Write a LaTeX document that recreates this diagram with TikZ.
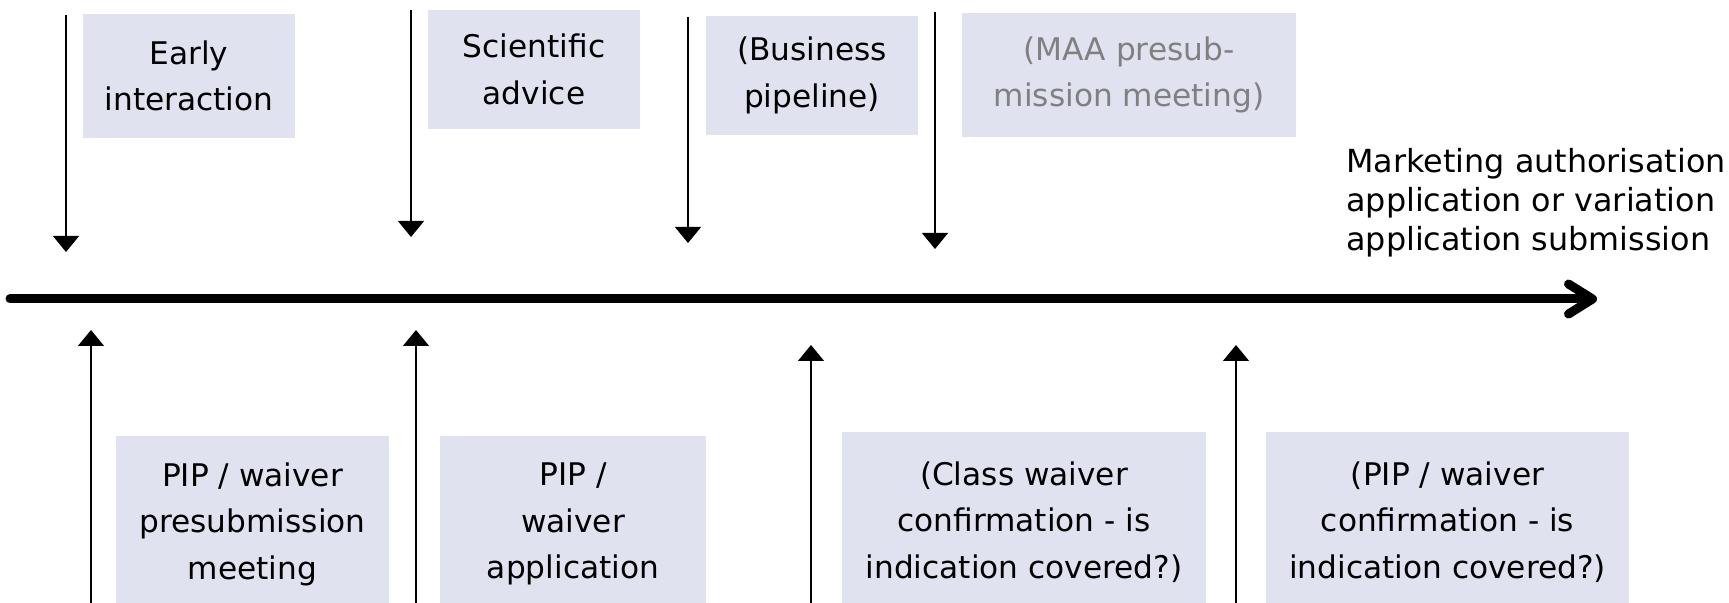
\documentclass[tikz,border=0pt]{standalone}
\usepackage{fontspec}
\setmainfont{DejaVu Sans}
\usetikzlibrary{arrows.meta}
\definecolor{boxfill}{RGB}{224,226,240}
\definecolor{greytext}{RGB}{128,128,128}
\begin{document}
\begin{tikzpicture}[x=0.5pt,y=-0.5pt,
  stage/.style={fill=boxfill,inner sep=0pt,align=center,font=\fontsize{15.6}{23.2}\selectfont},
  event/.style={line width=0.6pt,-{Triangle[length=8pt,width=13pt]}},
  timeline/.style={line width=4.5pt,line cap=round,-{Straight Barb[length=12pt,width=15pt,round]}}]
\useasboundingbox (0,0) rectangle (1729,603);
% steps before the submission (above the time line)
\node[stage,minimum width=106pt,minimum height=62pt] (early) at (189,76) {Early\\interaction};
\node[stage,minimum width=106pt,minimum height=59.5pt] (advice) at (534,69.5) {Scientific\\advice};
\node[stage,minimum width=106pt,minimum height=59.5pt] (pipeline) at (812,75.5) {(Business\\pipeline)};
\node[stage,minimum width=167pt,minimum height=62pt,text=greytext] (maa) at (1129,75) {(MAA presub-\\mission meeting)};
% paediatric steps (below the time line)
\node[stage,minimum width=136.5pt,minimum height=88pt] (pipmeeting) at (252.5,524) {PIP / waiver\\presubmission\\meeting};
\node[stage,minimum width=133pt,minimum height=88pt] (pipapp) at (573,524) {PIP /\\waiver\\application};
\node[stage,minimum width=182pt,minimum height=90pt] (classwaiver) at (1024,522) {(Class waiver\\confirmation - is\\indication covered?)};
\node[stage,minimum width=181.5pt,minimum height=90pt] (pipconf) at (1447.5,522) {(PIP / waiver\\confirmation - is\\indication covered?)};
% time line
\coordinate (start) at (10,299);
\coordinate (end) at (1597,299);
\draw[timeline] (start) -- (end);
\node[anchor=north west,inner sep=0pt,align=left,font=\fontsize{15.9}{19.6}\selectfont] (submission) at (1346,148)
  {Marketing authorisation\\application or variation\\application submission};
% event arrows
\foreach \n/\x/\ya/\yb in {a/66/15/252, b/411/10/237, c/688/17/243, d/935/12/249,
                          e/91/603/330, f/416/603/330, g/811/603/345, h/1236/603/345}
{
  \coordinate (\n from) at (\x,\ya);
  \coordinate (\n to) at (\x,\yb);
  \draw[event] (\n from) -- (\n to);
}
\end{tikzpicture}
\end{document}
